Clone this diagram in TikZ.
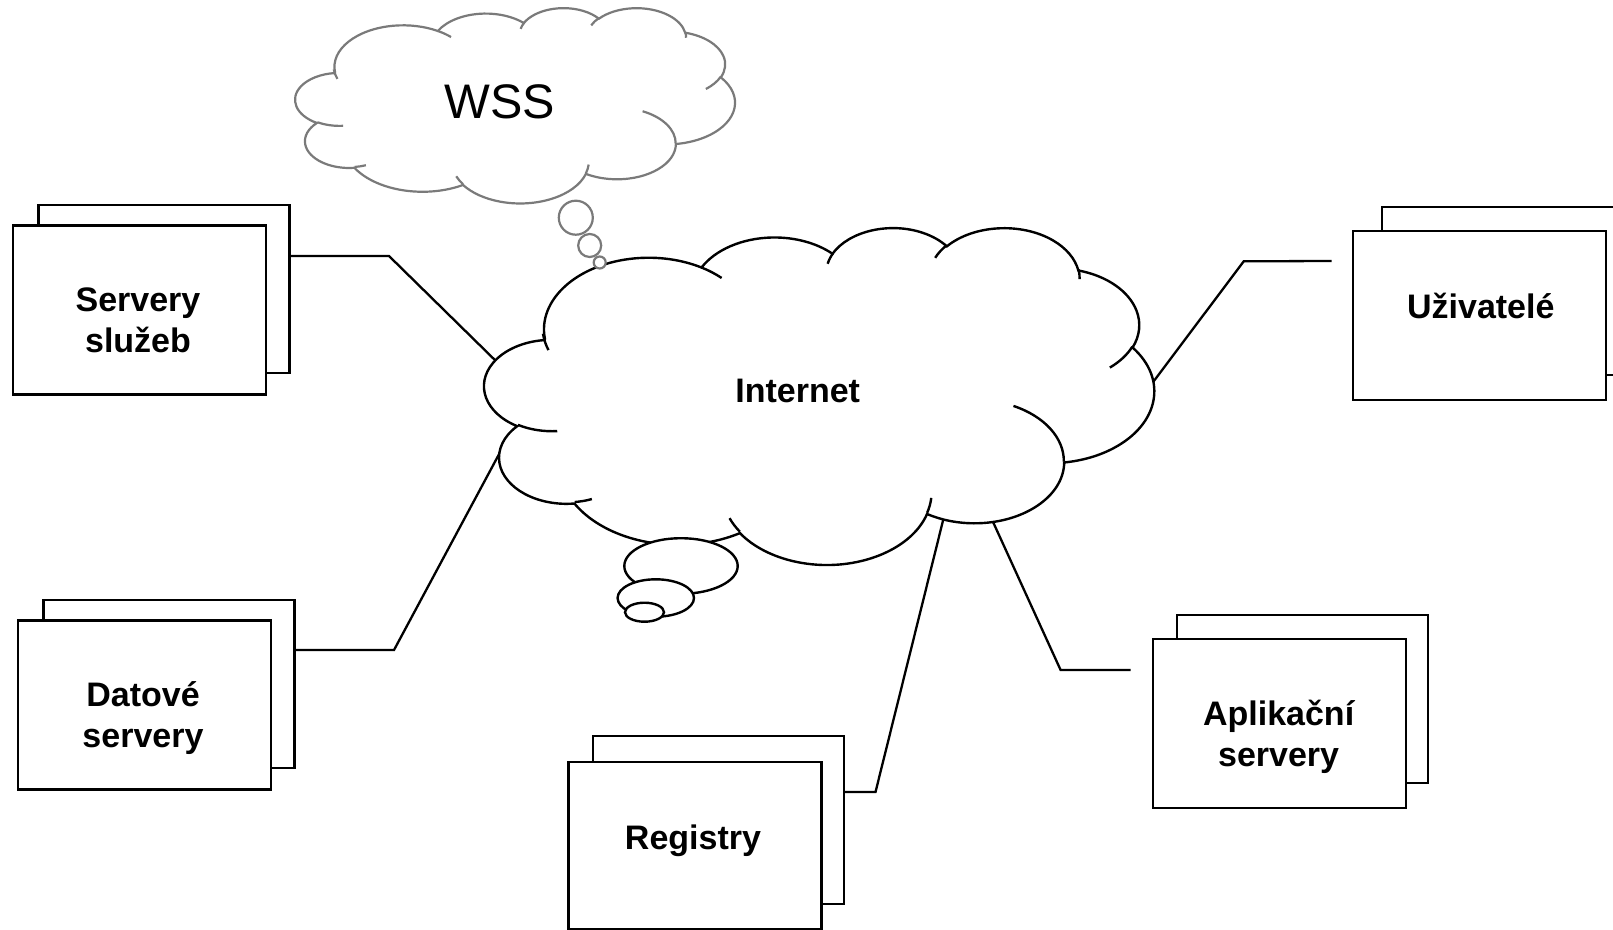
\documentclass[tikz,border=0pt]{standalone}
\usepackage{fontspec}
\setmainfont{Liberation Sans}
\usetikzlibrary{calc}
\definecolor{wssgrey}{HTML}{7A7A7A}
\tikzset{
  backbox/.style={draw=black, line width=2.3pt, fill=white, anchor=north west, inner sep=0pt, minimum width=251pt, minimum height=168pt},
  frontbox/.style={backbox, minimum width=253pt, minimum height=169pt},
  lbl/.style={font=\fontsize{34}{41}\selectfont\bfseries, align=center, inner sep=0pt},
  wsslbl/.style={font=\fontsize{48.5}{58}\selectfont, inner sep=0pt},
  wire/.style={draw=black, line width=2.3pt},
  netline/.style={draw=black, line width=2.4pt},
  wssline/.style={draw=wssgrey, line width=2.2pt},
}
% PowerPoint-style cloud outline in a 4320 x 4320 box (y pointing down)
\newcommand\ooCloud[2]{%
  \path[#1] (390.0,1437.0)
    arc[start angle=-187.75, delta angle=128.09, x radius=675.3, y radius=919.0]
    arc[start angle=-152.02, delta angle=106.59, x radius=533.3, y radius=726.7]
    arc[start angle=-153.49, delta angle=116.17, x radius=436.5, y radius=594.5]
    arc[start angle=-139.71, delta angle=129.50, x radius=485.7, y radius=659.5]
    arc[start angle=-74.77, delta angle=97.98, x radius=533.3, y radius=727.3]
    arc[start angle=-37.53, delta angle=119.39, x radius=677.5, y radius=922.0]
    arc[start angle=0.46, delta angle=121.52, x radius=578.5, y radius=786.7]
    arc[start angle=16.84, delta angle=129.40, x radius=675.2, y radius=921.5]
    arc[start angle=58.99, delta angle=91.21, x radius=772.0, y radius=1054.3]
    arc[start angle=-276.69, delta angle=139.79, x radius=436.0, y radius=591.8]
    arc[start angle=-239.64, delta angle=143.75, x radius=434.5, y radius=594.5]
    -- cycle;
  \path[#2]
    (469.3,2617.7) arc[start angle=85.55, delta angle=34.81, x radius=434.5, y radius=594.5]
    (692.8,3489.9) arc[start angle=68.23, delta angle=15.08, x radius=436.0, y radius=591.8]
    (1647.8,3909.0) arc[start angle=146.24, delta angle=12.24, x radius=675.2, y radius=921.5]
    (2882.7,3475.1) arc[start angle=4.74, delta angle=12.11, x radius=675.2, y radius=921.5]
    (3412.9,2295.4) arc[start angle=-64.03, delta angle=64.49, x radius=578.5, y radius=786.7]
    (4179.8,1535.4) arc[start angle=23.21, delta angle=26.43, x radius=533.3, y radius=727.3]
    (3832.4,542.6) arc[start angle=-10.21, delta angle=11.03, x radius=485.7, y radius=659.5]
    (2907.8,395.2) arc[start angle=-156.29, delta angle=16.59, x radius=485.7, y radius=659.5]
    (2214.1,472.0) arc[start angle=-167.68, delta angle=14.19, x radius=436.5, y radius=594.5]
    (1400.0,519.2) arc[start angle=-59.66, delta angle=13.89, x radius=675.3, y radius=919.0]
    (412.7,1578.9) arc[start angle=160.34, delta angle=13.44, x radius=675.3, y radius=919.0];
}
\begin{document}
\begin{tikzpicture}[x=1pt,y=-1pt]
\useasboundingbox (0,0) rectangle (1613,929);
\clip (0,0) rectangle (1613,929);
\fill[white] (0,0) rectangle (1613,929);

% stacked boxes
\node[backbox] (srvB) at (37.3,204) {};
\node[frontbox] (srvF) at (11.7,224.3) {};
\node[backbox] (datB) at (42.2,598.7) {};
\node[frontbox] (datF) at (16.5,619.3) {};
\node[backbox] (regB) at (591.7,735) {};
\node[frontbox, minimum height=167pt] (regF) at (567.3,760.7) {};
\node[backbox] (aplB) at (1175.8,614.1) {};
\node[frontbox] (aplF) at (1152.1,637.8) {};
\node[backbox] (uziB) at (1380.7,206) {};
\node[frontbox] (uziF) at (1351.7,230) {};

% connectors (their cloud ends are hidden under the cloud)
\coordinate (k1) at (389,256);    \coordinate (e1) at (500,365);
\coordinate (k2) at (394,650);    \coordinate (e2) at (501.7,449.2);
\coordinate (k3) at (875.5,792);  \coordinate (e3) at (947.4,502.9);
\coordinate (s4) at (1130.5,670); \coordinate (k4) at (1060.6,670); \coordinate (e4) at (984.6,503.5);
\coordinate (s5) at (1331.7,261); \coordinate (k5) at (1243.7,261.3); \coordinate (e5) at (1148.2,388.6);
\draw[wire] ($(srvB.north east)+(0,52)$) -- (k1) -- (e1);
\draw[wire] ($(datB.north east)+(0,51.3)$) -- (k2) -- (e2);
\draw[wire] ($(regB.north east)+(0,57)$) -- (k3) -- (e3);
\draw[wire] (s4) -- (k4) -- (e4);
\draw[wire] (s5) -- (k5) -- (e5);

% WSS cloud
\begin{scope}[shift={(295.4,7.5)}, x=0.101736pt, y=-0.045200pt]
  \ooCloud{wssline, fill=white}{wssline}
\end{scope}

% Internet cloud
\begin{scope}[shift={(484.5,227)}, x=0.154977pt, y=-0.077963pt]
  \ooCloud{netline, fill=white}{netline}
\end{scope}

% Internet thought bubbles
\draw[netline, fill=white] (681,566) ellipse [x radius=56.7, y radius=27.8];
\draw[netline, fill=white] (655.8,598) ellipse [x radius=38.2, y radius=18.7];
\draw[netline, fill=white] (644.5,612.2) ellipse [x radius=19.5, y radius=9.5];

% WSS thought bubbles
\draw[wssline, fill=white] (575.8,217.7) circle [radius=17];
\draw[wssline, fill=white] (589.7,245.5) circle [radius=11.5];
\draw[wssline, fill=white] (599.7,262.5) circle [radius=6];

% texts
\node[wsslbl, anchor=base] (wssT) at (500,118.2) {WSS};
\node[lbl, anchor=base] (inetT) at (797.7,402.2) {Internet};
\node[lbl] (srvT) at (138,320) {Servery\\služeb};
\node[lbl] (datT) at (143,718) {Datové\\servery};
\node[lbl] (aplT) at (1278.6,736.5) {Aplikační\\servery};
\node[lbl, anchor=base] (uziT) at (1480.8,318.3) {Uživatelé};
\node[lbl, anchor=base] (regT) at (693,849.3) {Registry};
\end{tikzpicture}
\end{document}
